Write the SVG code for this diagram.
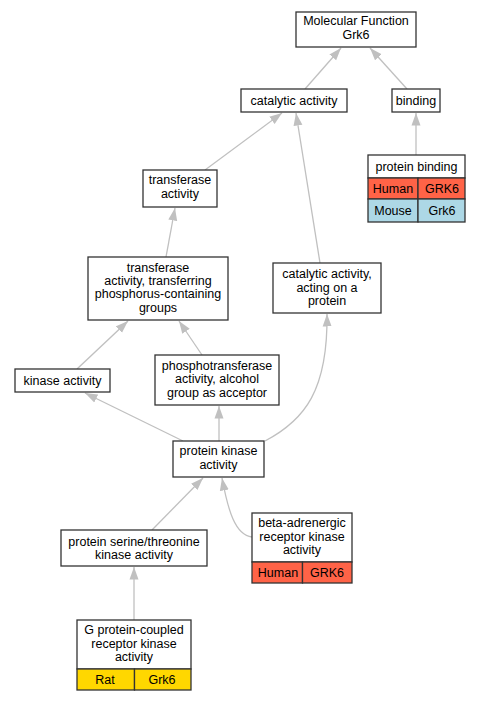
<svg xmlns="http://www.w3.org/2000/svg" width="480" height="701" viewBox="0 0 480 701">
<style>
.n{fill:#fff;stroke:#333;stroke-width:1.3}
.c{stroke:#333;stroke-width:1.3}
.t{font-family:"Liberation Sans",Arial,sans-serif;font-size:12.5px;fill:#000;text-anchor:middle}
.e{fill:none;stroke:#c0c0c0;stroke-width:1.3;marker-end:url(#a)}
.hu{fill:#ff6347}
.mo{fill:#add8e6}
.ra{fill:#ffd700}
</style>
<defs>
<marker id="a" markerUnits="userSpaceOnUse" markerWidth="13" markerHeight="10" refX="12.5" refY="4.5" orient="auto" viewBox="0 0 13 9">
<path d="M0,0 L12.5,4.5 L0,9 z" fill="#c0c0c0"/>
</marker>
</defs>
<rect width="480" height="701" fill="#fff"/>
<g id="edges">
<path class="e" d="M305,89 L341,48"/>
<path class="e" d="M407,89 L370,48"/>
<path class="e" d="M416,155 L416,113"/>
<path class="e" d="M205,170 L282,113"/>
<path class="e" d="M320,263 L296,113"/>
<path class="e" d="M166,257 L175,208"/>
<path class="e" d="M77,369 L128,321"/>
<path class="e" d="M202,355 L179,321"/>
<path class="e" d="M183,441 L85,393"/>
<path class="e" d="M219,441 L219,406"/>
<path class="e" d="M265,441 C305,420 328,390 327,314"/>
<path class="e" d="M152,530 L203,478"/>
<path class="e" d="M252,537 C235,535 228,510 222,478"/>
<path class="e" d="M134,620 L134,567"/>
</g>
<g id="mf">
<rect class="n" x="296" y="12" width="120" height="35"/>
<text class="t" x="356" y="25">Molecular Function</text>
<text class="t" x="356" y="39">Grk6</text>
</g>
<g id="catalytic">
<rect class="n" x="241" y="89" width="106" height="23"/>
<text class="t" x="294" y="105">catalytic activity</text>
</g>
<g id="binding">
<rect class="n" x="392" y="89" width="48" height="23"/>
<text class="t" x="416" y="105">binding</text>
</g>
<g id="proteinbinding">
<rect class="n" x="368" y="155" width="97" height="23"/>
<text class="t" x="416.5" y="171">protein binding</text>
<rect class="c hu" x="368" y="178" width="50" height="21"/>
<rect class="c hu" x="418" y="178" width="47" height="21"/>
<text class="t" x="393" y="193">Human</text>
<text class="t" x="442" y="193">GRK6</text>
<rect class="c mo" x="368" y="199" width="50" height="23"/>
<rect class="c mo" x="418" y="199" width="47" height="23"/>
<text class="t" x="393" y="215">Mouse</text>
<text class="t" x="442" y="215">Grk6</text>
</g>
<g id="transferase">
<rect class="n" x="143" y="170" width="74" height="37"/>
<text class="t" x="180" y="184">transferase</text>
<text class="t" x="180" y="198">activity</text>
</g>
<g id="transferring">
<rect class="n" x="88" y="257" width="140" height="63"/>
<text class="t" x="158" y="271.5">transferase</text>
<text class="t" x="158" y="285">activity, transferring</text>
<text class="t" x="158" y="298">phosphorus-containing</text>
<text class="t" x="158" y="312">groups</text>
</g>
<g id="actingprotein">
<rect class="n" x="273" y="263" width="108" height="50"/>
<text class="t" x="327" y="278">catalytic activity,</text>
<text class="t" x="327" y="292">acting on a</text>
<text class="t" x="327" y="305">protein</text>
</g>
<g id="kinase">
<rect class="n" x="15" y="369" width="95" height="23"/>
<text class="t" x="62.5" y="385">kinase activity</text>
</g>
<g id="phospho">
<rect class="n" x="155" y="355" width="124" height="50"/>
<text class="t" x="217" y="370">phosphotransferase</text>
<text class="t" x="217" y="383">activity, alcohol</text>
<text class="t" x="217" y="397">group as acceptor</text>
</g>
<g id="proteinkinase">
<rect class="n" x="173" y="441" width="91" height="36"/>
<text class="t" x="218.5" y="455">protein kinase</text>
<text class="t" x="218.5" y="469">activity</text>
</g>
<g id="serine">
<rect class="n" x="61" y="530" width="146" height="36"/>
<text class="t" x="134" y="546">protein serine/threonine</text>
<text class="t" x="134" y="559">kinase activity</text>
</g>
<g id="beta">
<rect class="n" x="252" y="513" width="100" height="49"/>
<text class="t" x="302" y="527">beta-adrenergic</text>
<text class="t" x="302" y="541">receptor kinase</text>
<text class="t" x="302" y="554">activity</text>
<rect class="c hu" x="252" y="562" width="50.5" height="21"/>
<rect class="c hu" x="302.5" y="562" width="49.5" height="21"/>
<text class="t" x="278" y="577">Human</text>
<text class="t" x="327" y="577">GRK6</text>
</g>
<g id="gprotein">
<rect class="n" x="77" y="620" width="114" height="49"/>
<text class="t" x="134" y="634">G protein-coupled</text>
<text class="t" x="134" y="648">receptor kinase</text>
<text class="t" x="134" y="661">activity</text>
<rect class="c ra" x="77" y="669" width="57.5" height="21"/>
<rect class="c ra" x="134.5" y="669" width="56.5" height="21"/>
<text class="t" x="105" y="684">Rat</text>
<text class="t" x="162" y="684">Grk6</text>
</g>
</svg>
